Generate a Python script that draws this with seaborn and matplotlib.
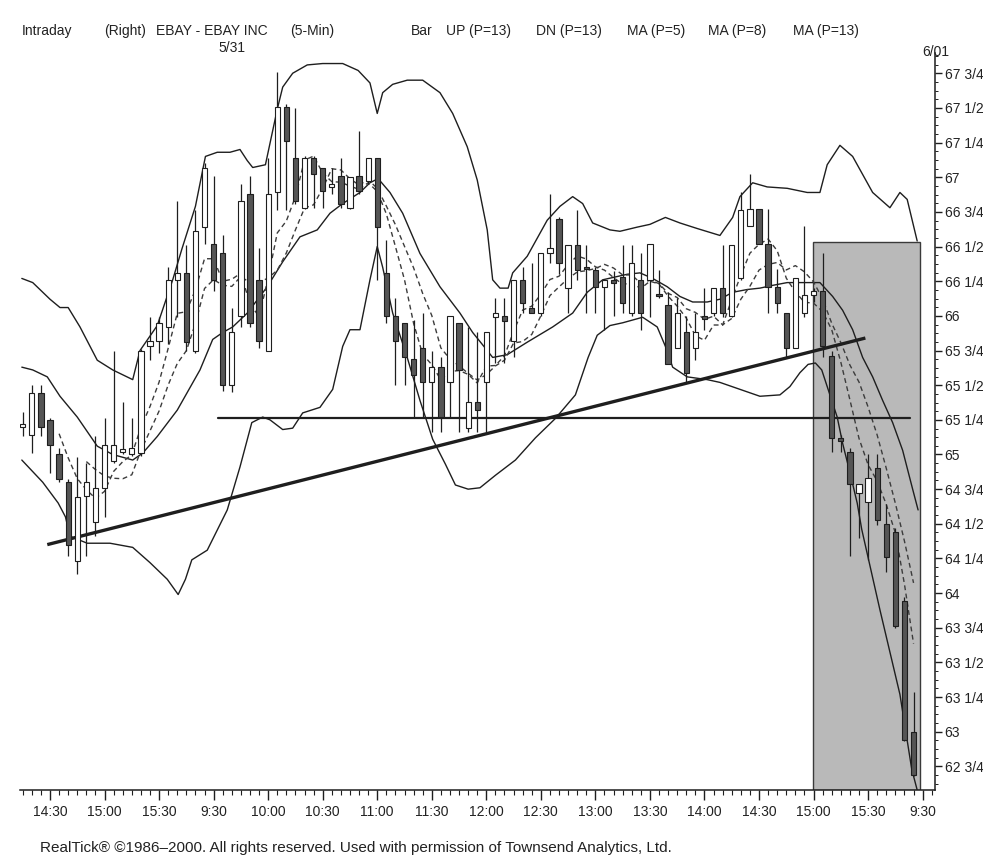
import numpy as np
import pandas as pd
import matplotlib
matplotlib.use("Agg")
import matplotlib.pyplot as plt
import seaborn as sns
from matplotlib.ticker import FixedLocator, MultipleLocator, FuncFormatter
from matplotlib.patches import Rectangle

# ---------------- data ----------------
bar_index = list(range(-3, 96))
open_ = [65.20, 65.14, 65.44, 65.25, 65.00, 64.80, 64.23, 64.70, 64.51, 64.76,
         64.95, 65.02, 65.00, 65.01, 65.78, 65.82, 65.92, 66.26, 66.31, 65.75,
         66.64, 66.52, 66.45, 65.50, 66.00, 66.88, 66.26, 65.75, 66.89, 67.51,
         67.14, 66.78, 67.14, 67.07, 66.93, 67.01, 66.78, 67.01, 66.97, 67.14,
         66.31, 66.00, 65.95, 65.69, 65.77, 65.52, 65.63, 65.52, 65.95, 65.19,
         65.38, 65.52, 65.99, 66.00, 65.82, 66.26, 66.06, 66.02, 66.45, 66.70,
         66.20, 66.51, 66.35, 66.33, 66.21, 66.26, 66.28, 66.02, 66.26, 66.26,
         66.16, 66.08, 65.77, 65.88, 65.77, 66.00, 66.02, 66.20, 66.00, 66.27,
         66.65, 66.77, 66.52, 66.21, 66.02, 65.77, 66.02, 66.15, 66.18, 65.71,
         65.12, 65.02, 64.72, 64.66, 64.90, 64.50, 64.44, 63.94, 63.00]
high = [65.31, 65.50, 65.50, 65.26, 65.05, 64.82, 64.98, 64.94, 65.13, 65.26,
        65.75, 65.38, 65.26, 65.76, 65.99, 65.99, 66.35, 66.83, 66.51, 66.76,
        67.10, 67.01, 66.58, 66.06, 66.95, 67.01, 66.49, 67.14, 67.76, 67.53,
        67.50, 67.15, 67.15, 67.07, 67.07, 67.14, 67.00, 67.33, 67.14, 67.14,
        66.55, 66.13, 65.95, 65.97, 66.02, 65.75, 65.70, 66.00, 65.95, 65.92,
        65.88, 65.88, 66.13, 66.13, 66.26, 66.35, 66.38, 66.45, 66.88, 66.71,
        66.51, 66.76, 66.51, 66.35, 66.26, 66.32, 66.51, 66.51, 66.45, 66.52,
        66.33, 66.17, 66.13, 66.00, 66.02, 66.20, 66.20, 66.51, 66.51, 66.89,
        67.02, 66.77, 66.77, 66.34, 66.02, 66.27, 66.65, 66.20, 66.45, 65.75,
        65.14, 65.05, 64.79, 65.00, 65.00, 64.64, 64.47, 63.97, 63.29]
low = [65.13, 65.01, 65.13, 64.87, 64.80, 64.27, 64.14, 64.27, 64.41, 64.55,
       64.94, 65.00, 64.99, 64.99, 65.68, 65.73, 65.80, 65.99, 65.75, 65.73,
       66.52, 66.18, 65.46, 65.45, 65.92, 65.92, 65.77, 65.75, 66.76, 66.76,
       66.81, 66.77, 66.78, 66.78, 66.88, 66.78, 66.77, 66.88, 66.95, 66.26,
       65.95, 65.50, 65.50, 65.27, 65.27, 65.16, 65.16, 65.27, 65.16, 65.16,
       65.16, 65.16, 65.66, 65.66, 65.70, 66.02, 66.02, 66.00, 66.38, 66.30,
       66.02, 66.26, 66.02, 66.02, 65.90, 66.00, 66.02, 66.00, 65.90, 65.99,
       66.13, 65.65, 65.77, 65.52, 65.68, 65.90, 66.00, 65.99, 65.99, 66.26,
       66.65, 66.52, 66.02, 66.02, 65.70, 65.77, 65.99, 66.10, 65.70, 65.02,
       65.02, 64.27, 64.40, 64.24, 64.49, 64.15, 63.75, 62.93, 62.68]
close = [65.22, 65.44, 65.20, 65.07, 64.82, 64.35, 64.69, 64.80, 64.76, 65.07,
         65.07, 65.04, 65.05, 65.75, 65.82, 65.95, 66.26, 66.31, 65.81, 66.61,
         67.07, 66.26, 65.50, 65.88, 66.83, 65.95, 65.82, 66.88, 67.51, 67.26,
         66.83, 67.14, 67.02, 66.90, 66.95, 66.81, 67.00, 66.90, 67.14, 66.64,
         66.00, 65.82, 65.70, 65.57, 65.52, 65.63, 65.27, 66.00, 65.61, 65.38,
         65.32, 65.88, 66.02, 65.96, 66.26, 66.09, 66.02, 66.45, 66.49, 66.38,
         66.51, 66.33, 66.34, 66.21, 66.26, 66.24, 66.09, 66.38, 66.02, 66.52,
         66.14, 65.65, 66.02, 65.59, 65.88, 65.98, 66.20, 66.02, 66.51, 66.76,
         66.77, 66.52, 66.21, 66.09, 65.77, 66.27, 66.15, 66.18, 65.78, 65.12,
         65.10, 64.79, 64.79, 64.83, 64.53, 64.26, 63.76, 62.94, 62.69]

time_labels = ["14:30", "15:00", "15:30", "9:30", "10:00", "10:30", "11:00",
               "11:30", "12:00", "12:30", "13:00", "13:30", "14:00", "14:30",
               "15:00", "15:30", "9:30"]
time_label_bars = [0, 6, 12, 18, 24, 30, 36, 42, 48, 54, 60, 66, 72, 78, 84, 90, 96]

# UP band (P=13)
upper_x = [-3.1, -1.9, 0.0, 1.1, 2.0, 3.3, 5.2, 6.9, 9.1, 9.9, 11.8, 13.5, 14.5, 16.0,
           17.1, 18.4, 19.8, 20.9, 21.7, 22.3, 23.7, 25.0, 25.6, 26.7, 28.3, 30.0,
           32.2, 33.9, 35.2, 36.0, 36.6, 37.7, 39.3, 41.0, 42.9, 44.3, 45.9, 47.0,
           48.1, 48.7, 49.5, 50.4, 50.9, 52.5, 54.7, 56.1, 57.5, 58.6, 59.7, 61.6,
           62.7, 64.6, 66.0, 67.7, 69.3, 71.2, 73.7, 75.1, 75.9, 77.3, 78.9, 81.1,
           83.3, 84.7, 85.5, 86.9, 88.3, 90.5, 92.4, 93.5, 94.3, 95.4]
upper_p = [66.27, 66.24, 66.12, 66.06, 66.06, 65.92, 65.68, 65.61, 65.54, 65.75,
           65.93, 66.26, 66.48, 66.79, 67.15, 67.18, 67.18, 67.20, 67.12, 67.07,
           67.09, 67.49, 67.65, 67.75, 67.81, 67.82, 67.82, 67.77, 67.68, 67.46,
           67.61, 67.67, 67.70, 67.70, 67.61, 67.46, 67.22, 66.98, 66.62, 66.26,
           66.20, 66.20, 66.31, 66.43, 66.69, 66.79, 66.86, 66.81, 66.67, 66.62,
           66.61, 66.64, 66.66, 66.71, 66.67, 66.63, 66.58, 66.71, 66.86, 66.96,
           66.93, 66.92, 66.89, 66.89, 67.09, 67.23, 67.15, 66.89, 66.78, 66.89,
           66.84, 66.54]

# MA (P=13) solid line
mid_x = [-3.1, -1.9, -0.3, 1.1, 3.0, 5.2, 6.9, 9.1, 10.2, 11.8, 14.0, 16.5, 17.9,
         19.0, 20.1, 21.7, 23.9, 25.6, 27.5, 29.4, 30.8, 32.2, 34.1, 35.2, 36.1,
         37.4, 38.8, 40.7, 42.9, 45.1, 46.5, 48.1, 48.7, 50.3, 52.5, 55.3, 57.5,
         59.1, 60.8, 63.5, 64.9, 66.3, 67.9, 69.3, 70.7, 72.3, 73.7, 75.1, 76.7,
         78.1, 79.5, 81.1, 82.5, 83.9, 84.7, 86.1, 87.2, 88.3, 89.4, 90.5, 91.6,
         92.7, 93.8, 94.9, 95.5]
mid_p = [65.63, 65.61, 65.56, 65.42, 65.27, 65.06, 65.00, 64.96, 65.01, 65.13,
         65.32, 65.61, 65.83, 65.88, 65.92, 66.02, 66.21, 66.39, 66.57, 66.62,
         66.74, 66.81, 66.89, 66.96, 66.99, 66.89, 66.74, 66.45, 66.21, 66.02,
         65.88, 65.75, 65.70, 65.72, 65.81, 65.92, 66.02, 66.17, 66.26, 66.30,
         66.31, 66.27, 66.21, 66.14, 66.10, 66.10, 66.12, 66.17, 66.19, 66.20,
         66.22, 66.24, 66.24, 66.24, 66.24, 66.14, 66.04, 65.90, 65.70, 65.56,
         65.39, 65.23, 65.03, 64.75, 64.60]

# DN band (P=13)
lower_x = [-3.1, -0.8, 0.9, 1.7, 2.2, 4.1, 6.6, 9.1, 11.0, 12.9, 14.1, 14.9, 15.6,
           17.3, 19.5, 20.9, 22.2, 23.4, 24.2, 25.6, 26.7, 27.8, 29.7, 31.1, 32.2,
           33.0, 34.1, 35.2, 36.0, 36.6, 37.7, 39.3, 40.7, 42.1, 43.5, 44.6, 46.0,
           47.3, 49.0, 51.2, 53.4, 55.6, 57.8, 59.2, 60.2, 61.6, 63.0, 65.2, 66.8,
           67.7, 68.5, 70.1, 72.3, 73.7, 75.9, 78.1, 80.3, 81.4, 82.5, 83.4, 84.2,
           84.9, 85.6, 86.6, 87.2, 88.0, 88.8, 89.3, 91.3, 93.5, 94.8, 95.4]
lower_p = [64.96, 64.80, 64.65, 64.55, 64.41, 64.36, 64.36, 64.33, 64.22, 64.10,
           63.99, 64.10, 64.24, 64.31, 64.60, 64.91, 65.23, 65.27, 65.25, 65.18,
           65.19, 65.30, 65.34, 65.47, 65.78, 65.90, 65.90, 66.26, 66.50, 66.35,
           66.02, 65.70, 65.39, 65.11, 64.93, 64.78, 64.75, 64.76, 64.85, 64.96,
           65.12, 65.26, 65.43, 65.70, 65.86, 65.93, 65.95, 65.99, 65.92, 65.78,
           65.63, 65.56, 65.54, 65.52, 65.47, 65.42, 65.43, 65.49, 65.59, 65.65,
           65.66, 65.61, 65.47, 65.27, 65.08, 64.87, 64.65, 64.46, 63.88, 63.27,
           62.73, 62.58]

support_bars = [18.5, 94.6]
support_price = [65.26, 65.26]
trend_bars = [-0.3, 89.7]
trend_price = [64.35, 65.84]
zone_bars = [83.95, 95.7]
zone_price = [62.58, 66.53]

# ---------------- figure ----------------
sns.set_theme(style="white")
plt.rcParams['font.family'] = ['Liberation Sans', 'DejaVu Sans']

W, H = 983, 863
fig = plt.figure(figsize=(W / 100, H / 100), dpi=100)
fig.patch.set_facecolor("white")
ax = fig.add_axes([20 / W, (H - 790) / H, 915 / W, 737 / H])
ax.set_facecolor("white")

ink = "#1e1e1e"

# shaded zone
ax.add_patch(Rectangle((zone_bars[0], zone_price[0]), zone_bars[1] - zone_bars[0],
                       zone_price[1] - zone_price[0], facecolor="#b9b9b9",
                       edgecolor="#3a3a3a", linewidth=1.0, zorder=0.5))

df = pd.DataFrame({"bar": bar_index, "open": open_, "high": high, "low": low, "close": close})
df["ma5"] = df["close"].rolling(5).mean()
df["ma8"] = df["close"].rolling(8).mean()

# band & MA lines
sns.lineplot(x=upper_x, y=upper_p, ax=ax, color=ink, lw=1.0, sort=False, estimator=None, zorder=2)
sns.lineplot(x=lower_x, y=lower_p, ax=ax, color=ink, lw=1.0, sort=False, estimator=None, zorder=2)
sns.lineplot(x=mid_x, y=mid_p, ax=ax, color=ink, lw=1.0, sort=False, estimator=None, zorder=2)
sns.lineplot(data=df, x="bar", y="ma5", ax=ax, color="#3c3c3c", lw=1.0,
             linestyle=(0, (3.5, 2.5)), estimator=None, zorder=2)
sns.lineplot(data=df, x="bar", y="ma8", ax=ax, color="#3c3c3c", lw=1.0,
             linestyle=(0, (3.5, 2.5)), estimator=None, zorder=2)

# support and trend lines
ax.plot(support_bars, support_price, color=ink, lw=1.6, zorder=2.2)
ax.plot(trend_bars, trend_price, color=ink, lw=2.4, zorder=2.2, solid_capstyle="butt")

# candles
up = df["close"] >= df["open"]
ax.vlines(df["bar"], df["low"], df["high"], color=ink, lw=0.9, zorder=3)
body_bottom = np.minimum(df["open"], df["close"])
body_h = np.maximum((df["close"] - df["open"]).abs(), 0.012)
ax.bar(df["bar"], body_h, bottom=body_bottom, width=0.58,
       color=np.where(up, "white", "#555555"), edgecolor=ink, linewidth=0.8, zorder=4)

# axes / ticks
ax.set_xlim(-3.3, 97.36)
ax.set_ylim(62.58, 67.896)
for s in ["left", "top"]:
    ax.spines[s].set_visible(False)
for s in ["right", "bottom"]:
    ax.spines[s].set_visible(True)
    ax.spines[s].set_color(ink)
    ax.spines[s].set_linewidth(1.1)

ax.xaxis.set_major_locator(FixedLocator(time_label_bars))
ax.set_xticklabels(time_labels)
ax.xaxis.set_minor_locator(MultipleLocator(1))
ax.tick_params(axis="x", which="major", direction="out", length=7, width=1.0,
               color=ink, labelsize=10, labelcolor="#222222", pad=4, bottom=True)
ax.tick_params(axis="x", which="minor", direction="out", length=3.5, width=0.8,
               color=ink, bottom=True)

def frac(v, pos):
    whole = int(np.floor(v + 1e-6))
    q = int(round((v - whole) * 4))
    return {0: f"{whole}", 1: f"{whole} 1/4", 2: f"{whole} 1/2", 3: f"{whole} 3/4"}[q]

ax.yaxis.tick_right()
ax.yaxis.set_major_locator(FixedLocator(np.arange(62.75, 67.76, 0.25)))
ax.yaxis.set_major_formatter(FuncFormatter(frac))
ax.yaxis.set_minor_locator(MultipleLocator(0.0625))
ax.tick_params(axis="y", which="major", direction="out", length=5, width=1.0,
               color=ink, labelsize=10, labelcolor="#222222", pad=2, right=True, left=False)
ax.tick_params(axis="y", which="minor", direction="out", length=2.5, width=0.7,
               color=ink, right=True, left=False)
ax.set_xlabel("")
ax.set_ylabel("")
ax.grid(False)

# header & footer texts
def ftext(x, y, s, size=10, ha="left"):
    fig.text(x / W, 1 - y / H, s, fontsize=size, ha=ha, va="center", color="#222222")

ftext(22, 31, "Intraday")
ftext(104, 31, "(Right)")
ftext(156, 31, "EBAY - EBAY INC")
ftext(290, 31, "(5-Min)")
ftext(232, 48, "5/31", ha="center")
ftext(411, 31, "Bar")
ftext(446, 31, "UP (P=13)")
ftext(536, 31, "DN (P=13)")
ftext(627, 31, "MA (P=5)")
ftext(708, 31, "MA (P=8)")
ftext(793, 31, "MA (P=13)")
ftext(936, 52, "6/01", ha="center")
ftext(40, 848, "RealTick\u00ae \u00a91986\u20132000. All rights reserved. Used with permission of Townsend Analytics, Ltd.", size=11)

fig.savefig("out.png", dpi=100)
